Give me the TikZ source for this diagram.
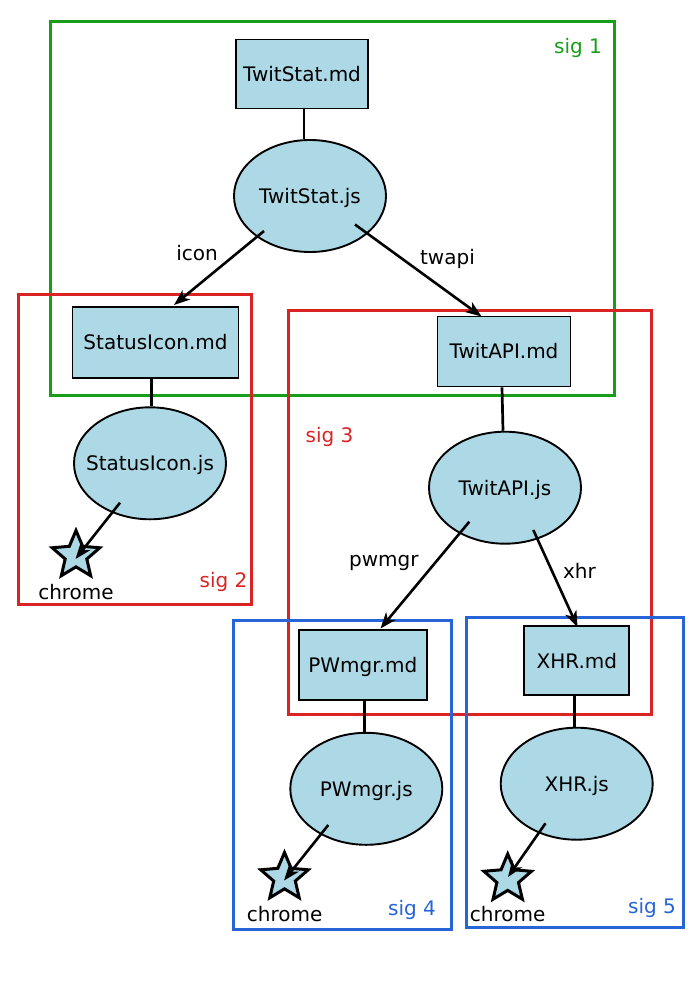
\documentclass[tikz,border=0pt]{standalone}
\usepackage{fontspec}
\setmainfont{DejaVu Sans}
\usetikzlibrary{shapes.geometric,arrows.meta}
\definecolor{nodefill}{RGB}{173,216,230}
\definecolor{sgreen}{RGB}{24,158,24}
\definecolor{sred}{RGB}{218,36,36}
\definecolor{sblue}{RGB}{38,100,216}
\newcommand\jstxt[1]{\makebox[0pt][c]{#1}}
\begin{document}
\begin{tikzpicture}[x=1pt,y=-1pt,
  every node/.style={font=\fontsize{20}{24}\selectfont},
  mdbox/.style={draw=black, line width=1.9pt, fill=nodefill, rectangle, inner sep=0pt,
    text height=15pt, text depth=0.4pt},
  jsell/.style={draw=black, line width=1.9pt, fill=nodefill, ellipse, inner sep=0pt,
    minimum width=152pt, minimum height=112pt, text height=15pt, text depth=0.4pt},
  starnode/.style={draw=black, line width=3pt, fill=nodefill, star, star points=5,
    star point ratio=2.2, minimum size=50pt, inner sep=0pt},
  cluster/.style={line width=3pt},
  link/.style={draw=black, line width=2.7pt},
  arr/.style={draw=black, line width=2.6pt, -{Stealth[length=16pt,width=12pt,inset=4.5pt]}},
  lbl/.style={anchor=base, inner sep=0pt}
]
\useasboundingbox (0,0) rectangle (700,990);
\fill[white] (0,0) rectangle (700,990);

% clusters
\draw[cluster, sgreen] (50.5,22) rectangle (614,395.5);
\draw[cluster, sred] (18.5,294.5) rectangle (251,604.5);
\draw[cluster, sred] (288,310) rectangle (651.3,714.5);
\draw[cluster, sblue] (233.5,620) rectangle (451,929);
\draw[cluster, sblue] (466,617) rectangle (683.8,927);

\node[lbl, text=sgreen] (sig1) at (578,53.3) {sig 1};
\node[lbl, text=sred] (sig2) at (223.5,587.7) {sig 2};
\node[lbl, text=sred] (sig3) at (329.5,442.7) {sig 3};
\node[lbl, text=sblue] (sig4) at (412,915) {sig 4};
\node[lbl, text=sblue] (sig5) at (652,913.3) {sig 5};

% nodes
\node[mdbox, minimum width=132pt, minimum height=69pt] (tsmd) at (302,74) {TwitStat.md};
\node[jsell] (tsjs) at (310,196) {\jstxt{TwitStat.js}};
\node[mdbox, minimum width=166pt, minimum height=71pt] (simd) at (155.5,342.2) {StatusIcon.md};
\node[jsell] (sijs) at (150,463.3) {\jstxt{StatusIcon.js}};
\node[mdbox, minimum width=133pt, minimum height=70pt] (tamd) at (504,351.5) {TwitAPI.md};
\node[jsell] (tajs) at (505,487.7) {\jstxt{TwitAPI.js}};
\node[mdbox, minimum width=128pt, minimum height=70pt] (pwmd) at (362.8,664.8) {PWmgr.md};
\node[jsell] (pwjs) at (366.3,788.8) {\jstxt{PWmgr.js}};
\node[mdbox, minimum width=105pt, minimum height=69pt] (xhmd) at (576.8,660.8) {XHR.md};
\node[jsell] (xhjs) at (576.7,783.7) {\jstxt{XHR.js}};

\node[starnode] (st2) at (76,555.5) {};
\node[starnode] (st4) at (284.5,877.5) {};
\node[starnode] (st5) at (507.7,879) {};
\node[lbl] (ch2) at (76,599.3) {chrome};
\node[lbl] (ch4) at (284.7,921) {chrome};
\node[lbl] (ch5) at (507.7,921.7) {chrome};

% undirected links
\draw[link] ([xshift=2pt]tsmd.south) -- ([xshift=-6pt]tsjs.north);
\draw[link] ([xshift=-3.8pt]simd.south) -- ([xshift=1.7pt]sijs.north);
\draw[link] ([xshift=-2pt]tamd.south) -- ([xshift=-2pt]tajs.north);
\draw[link] ([xshift=1.5pt]pwmd.south) -- ([xshift=-2pt]pwjs.north);
\draw[link] ([xshift=-2.5pt]xhmd.south) -- ([xshift=-2.4pt]xhjs.north);

% edge end points
\coordinate (e1s) at (264,231);   \coordinate (e1t) at (174,305);
\coordinate (e2s) at (355,224.5); \coordinate (e2t) at (481.5,316.5);
\coordinate (e3s) at (469.3,521.7); \coordinate (e3t) at (380.5,628.5);
\coordinate (e4s) at (533.3,530); \coordinate (e4t) at (577.5,627);
\coordinate (e5s) at (120,502.7); \coordinate (e5t) at (75.5,559);
\coordinate (e6s) at (328.3,825); \coordinate (e6t) at (284,880.5);
\coordinate (e7s) at (545.5,823.3); \coordinate (e7t) at (508,877);

\draw[arr] (e1s) -- (e1t);
\draw[arr] (e2s) -- (e2t);
\draw[arr] (e3s) -- (e3t);
\draw[arr] (e4s) -- (e4t);
\draw[arr] (e5s) -- (e5t);
\draw[arr] (e6s) -- (e6t);
\draw[arr] (e7s) -- (e7t);

\node[lbl] (licon) at (197,260) {icon};
\node[lbl] (ltwapi) at (447.5,264) {twapi};
\node[lbl] (lpw) at (383.8,566.7) {pwmgr};
\node[lbl] (lxhr) at (579.5,578.3) {xhr};
\end{tikzpicture}
\end{document}
